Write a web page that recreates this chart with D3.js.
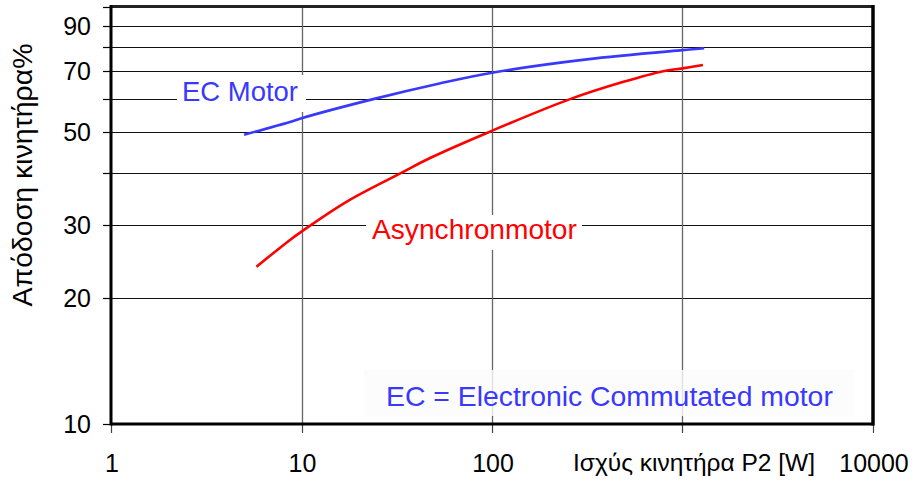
<!DOCTYPE html>
<html>
<head>
<meta charset="utf-8">
<script src="https://cdn.jsdelivr.net/npm/d3@7"></script>
<style>
  body { margin: 0; background: #fff; }
  svg { display: block; font-family: "Liberation Sans", Arial, sans-serif; }
</style>
</head>
<body>
<svg id="chart" width="922" height="484"></svg>
<script>
// ---- data ----
const ecPower = [5, 8.7, 10, 23.8, 53, 100, 314, 1000, 1300];
const ecEff   = [49.3, 52.9, 54, 60, 65.4, 69.4, 74.7, 78.6, 79.4];
const asPower = [5.8, 8.7, 10, 17.3, 33.6, 47, 96, 257, 490, 790, 1000, 1280];
const asEff   = [23.8, 27.6, 28.9, 34.1, 40, 43.3, 50, 60, 66, 70, 71.1, 72.4];
const xTicks = [1, 10, 100, 1000, 10000];
const xTickLabels = ["1", "10", "100", "", "10000"];
const yGrid = [20, 30, 40, 50, 60, 70, 80, 90, 100];
const yTickMarks = [10, 20, 30, 40, 50, 60, 70, 80, 90, 100];
const yTickLabels = [10, 20, 30, 50, 70, 90];
const xTitle = "Ισχύς κινητήρα P2 [W]";
const yTitle = "Απόδοση κινητήρα%";
const ecLabel = "EC Motor";
const asLabel = "Asynchronmotor";
const noteLabel = "EC = Electronic Commutated motor";

const svg = d3.select("#chart");
const x = d3.scaleLog().domain([1, 10000]).range([111, 873]);
const y = d3.scaleLog().domain([10, 100]).range([424, 6.5]);

// fit a text element to a target width by adjusting font-size
function fitWidth(sel, target) {
  const fs = parseFloat(sel.attr("font-size"));
  const w = sel.node().getComputedTextLength();
  if (w > 0) sel.attr("font-size", (fs * target / w).toFixed(2));
  return sel;
}

// gridlines
svg.append("g").selectAll("line").data(yGrid).join("line")
  .attr("x1", x(1)).attr("x2", x(10000))
  .attr("y1", d => Math.round(y(d)) + 0.5).attr("y2", d => Math.round(y(d)) + 0.5)
  .attr("stroke", "#111").attr("stroke-width", 1.2);
svg.append("g").selectAll("line").data([10, 100, 1000]).join("line")
  .attr("x1", d => Math.round(x(d)) + 0.5).attr("x2", d => Math.round(x(d)) + 0.5)
  .attr("y1", y(100)).attr("y2", y(10))
  .attr("stroke", "#666").attr("stroke-width", 1.3);

// tick marks
svg.append("g").selectAll("line").data(yTickMarks).join("line")
  .attr("x1", 103).attr("x2", x(1))
  .attr("y1", d => Math.round(y(d)) + 0.5).attr("y2", d => Math.round(y(d)) + 0.5)
  .attr("stroke", "#000").attr("stroke-width", 1.2);
svg.append("g").selectAll("line").data(xTicks).join("line")
  .attr("x1", d => Math.round(x(d)) + 0.5).attr("x2", d => Math.round(x(d)) + 0.5)
  .attr("y1", y(10)).attr("y2", y(10) + 9)
  .attr("stroke", "#444").attr("stroke-width", 1.2);

// label boxes (white backgrounds breaking gridlines)
svg.append("rect").attr("x", 177).attr("y", 75).attr("width", 129).attr("height", 37).attr("fill", "#fff");
svg.append("rect").attr("x", 366).attr("y", 215).attr("width", 216).attr("height", 35).attr("fill", "#fff");
svg.append("rect").attr("x", 364).attr("y", 370).attr("width", 490).attr("height", 46)
  .attr("fill", "#fbfbfb").attr("fill-opacity", 0.82);

// frame
svg.append("line").attr("x1", x(1)).attr("x2", x(10000)).attr("y1", y(100)).attr("y2", y(100))
  .attr("stroke", "#222").attr("stroke-width", 3);
svg.append("line").attr("x1", x(10000)).attr("x2", x(10000)).attr("y1", y(100) - 1.5).attr("y2", y(10) + 1.5)
  .attr("stroke", "#000").attr("stroke-width", 3.5);
svg.append("line").attr("x1", x(1)).attr("x2", x(10000)).attr("y1", y(10)).attr("y2", y(10))
  .attr("stroke", "#000").attr("stroke-width", 3);
svg.append("line").attr("x1", x(1)).attr("x2", x(1)).attr("y1", y(100) - 1.5).attr("y2", y(10) + 1.5)
  .attr("stroke", "#000").attr("stroke-width", 3);

// curves
const line = d3.line().curve(d3.curveCatmullRom.alpha(0.5)).x(d => x(d[0])).y(d => y(d[1]));
svg.append("path").datum(d3.zip(ecPower, ecEff)).attr("d", line)
  .attr("fill", "none").attr("stroke", "#3838ff").attr("stroke-width", 2.6);
svg.append("path").datum(d3.zip(asPower, asEff)).attr("d", line)
  .attr("fill", "none").attr("stroke", "#ff0000").attr("stroke-width", 2.6);

// tick labels
svg.append("g").selectAll("text").data(yTickLabels).join("text")
  .attr("x", 91).attr("y", d => y(d)).attr("dy", "0.36em")
  .attr("text-anchor", "end").attr("font-size", 25).attr("fill", "#000")
  .text(d => d);
svg.append("g").selectAll("text").data(xTicks).join("text")
  .attr("x", d => x(d) + 1).attr("y", 472)
  .attr("text-anchor", "middle").attr("font-size", 25).attr("fill", "#000")
  .text((d, i) => xTickLabels[i]);

// titles
fitWidth(svg.append("text").attr("x", 573).attr("y", 471).attr("font-size", 20).attr("fill", "#000").text(xTitle), 242);
fitWidth(svg.append("text").attr("transform", "translate(32,175) rotate(-90)")
  .attr("text-anchor", "middle").attr("font-size", 26).attr("fill", "#000").text(yTitle), 263);

// annotations
fitWidth(svg.append("text").attr("x", 182).attr("y", 101).attr("font-size", 27).attr("fill", "#3838ff").text(ecLabel), 116);
fitWidth(svg.append("text").attr("x", 372).attr("y", 239).attr("font-size", 27).attr("fill", "#ff0000").text(asLabel), 205);
fitWidth(svg.append("text").attr("x", 386).attr("y", 406).attr("font-size", 27).attr("fill", "#3838ff").text(noteLabel), 447);
</script>
</body>
</html>
